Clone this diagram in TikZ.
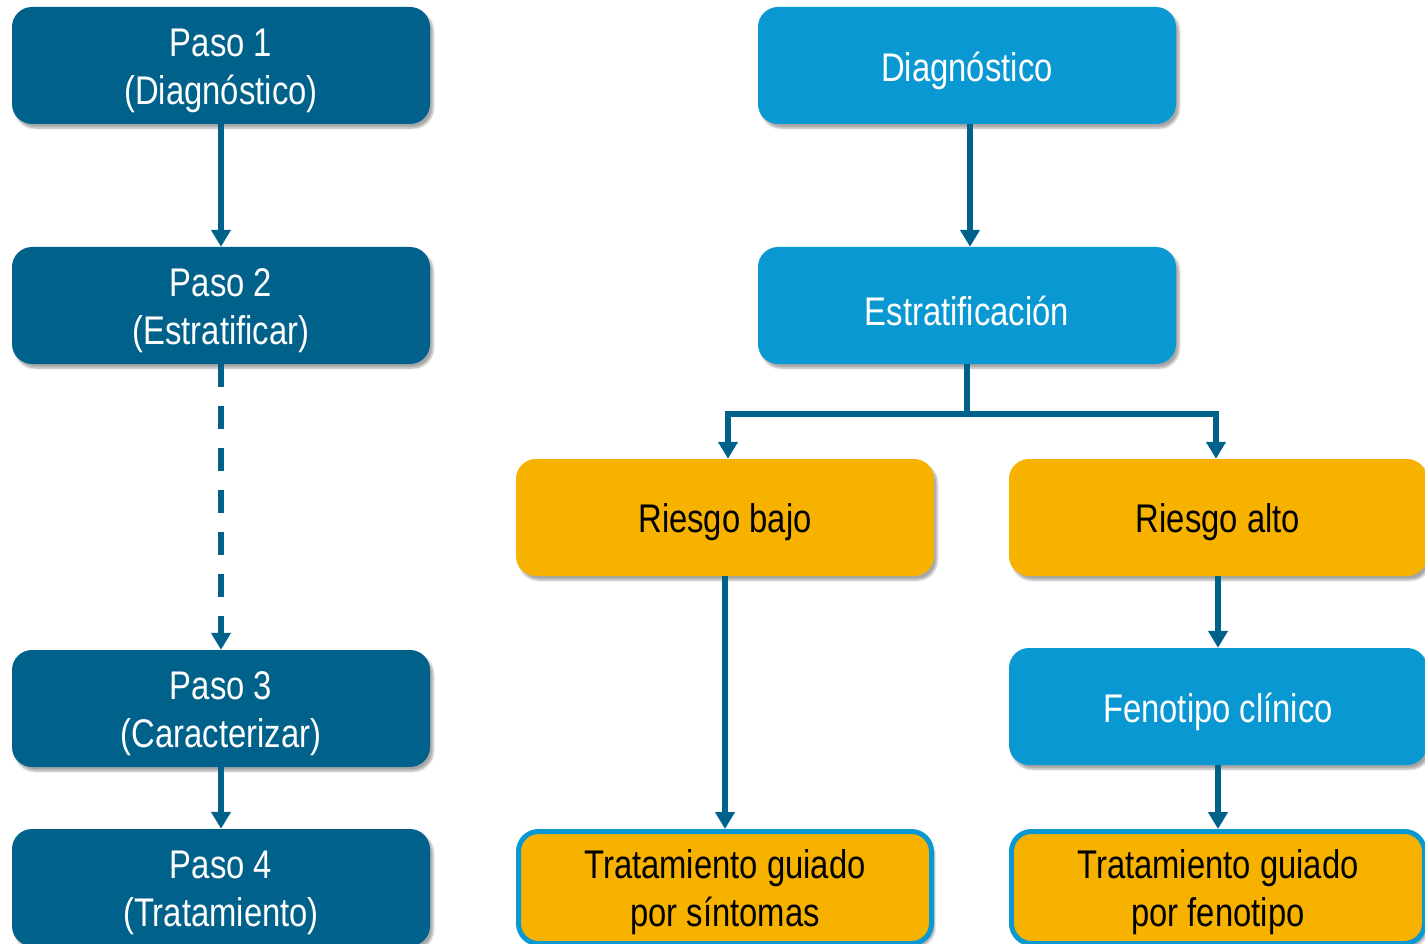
\documentclass[tikz,border=0pt]{standalone}
\usepackage{fontspec}
\setmainfont{Liberation Sans}[FakeStretch=0.82]
\usetikzlibrary{arrows.meta,shadows.blur}
\definecolor{darkteal}{HTML}{00628B}
\definecolor{skyblue}{HTML}{0A98D2}
\definecolor{amber}{HTML}{F7B200}
\tikzset{
  box/.style={rounded corners=20pt, minimum width=418pt, minimum height=117pt,
    inner sep=0pt,
    blur shadow={shadow xshift=3pt, shadow yshift=-4pt, shadow blur steps=6, shadow opacity=35}},
  caption/.style={label={[align=center, font=\fontsize{40}{48}\selectfont,
    text=#1, inner sep=0pt, yshift=-5pt]center:\boxtext}},
  stepbox/.style={box, fill=darkteal},
  bluebox/.style={box, fill=skyblue},
  riskbox/.style={box, fill=amber},
  treatbox/.style={box, fill=amber, draw=skyblue, line width=5pt,
    minimum width=413pt, minimum height=112pt},
  link/.style={draw=darkteal, line width=6pt, -{Triangle[width=19pt,length=17pt]}},
  plain/.style={draw=darkteal, line width=6pt}
}
% a box with its centred text, a little below the geometric centre
\newcommand\flowbox[5]{%
  \def\boxtext{#5}%
  \node[#1, caption=#2] (#3) at #4 {};}
\begin{document}
\begin{tikzpicture}[x=1pt, y=-1pt]
\useasboundingbox (0,0) rectangle (1425,944);
\clip (0,0) rectangle (1425,944);
% left column: the four steps
\flowbox{stepbox}{white}{p1}{(221,65.5)}{Paso 1\\(Diagnóstico)}
\flowbox{stepbox}{white}{p2}{(221,305.5)}{Paso 2\\(Estratificar)}
\flowbox{stepbox}{white}{p3}{(221,708.5)}{Paso 3\\(Caracterizar)}
\flowbox{stepbox}{white}{p4}{(221,887.5)}{Paso 4\\(Tratamiento)}
% right: the clinical pathway
\flowbox{bluebox}{white}{dx}{(967,65.5)}{Diagnóstico}
\flowbox{bluebox}{white}{st}{(967,305.5)}{Estratificación}
\flowbox{riskbox}{black}{rb}{(725,517.5)}{Riesgo bajo}
\flowbox{riskbox}{black}{ra}{(1218,517.5)}{Riesgo alto}
\flowbox{bluebox}{white}{fc}{(1218,706.5)}{Fenotipo clínico}
\flowbox{treatbox}{black}{ts}{(725,887.5)}{Tratamiento guiado\\por síntomas}
\flowbox{treatbox}{black}{tf}{(1218,887.5)}{Tratamiento guiado\\por fenotipo}
% connectors
\draw[link] (p1) -- (p2);
\draw[link, dash pattern=on 23pt off 19pt] (p2) -- (p3);
\draw[link] (p3) -- (p4.north);
\draw[link] ([xshift=3pt]dx.south) -- ([xshift=3pt]st.north);
\coordinate (split) at (967,414);
\draw[link] (st.south) -- (split) -| ([xshift=3pt]rb.north);
\draw[link] (split) -| ([xshift=-2pt]ra.north);
\draw[link] (rb) -- (ts.north);
\draw[link] (ra) -- (fc);
\draw[link] (fc) -- (tf.north);
\end{tikzpicture}
\end{document}
